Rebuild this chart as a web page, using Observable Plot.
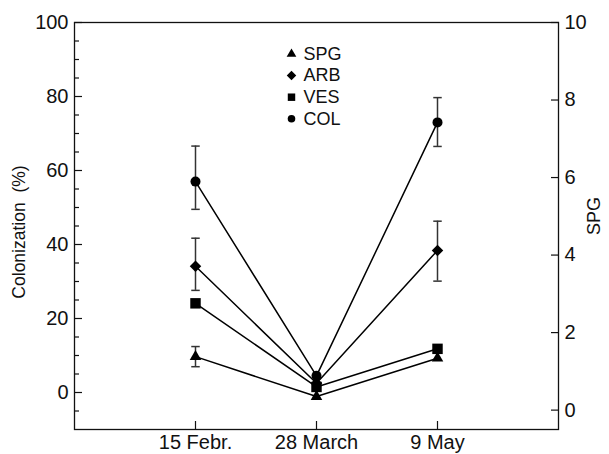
<!DOCTYPE html>
<html><head><meta charset="utf-8">
<script src="https://cdn.jsdelivr.net/npm/d3@7"></script>
<script src="https://cdn.jsdelivr.net/npm/@observablehq/plot@0.6"></script>
<style>body{margin:0;background:#fff;} #chart svg{display:block;}</style>
</head><body><div id="chart"></div>
<script>
// ---- data ----
const dates = ["15 Febr.", "28 March", "9 May"];
const seriesNames = ["SPG", "ARB", "VES", "COL"];
const COL = [57.0, 4.5, 73.0];
const COL_hi = [66.6, null, 79.7];
const COL_lo = [49.5, null, 66.5];
const ARB = [34.1, 2.5, 38.4];
const ARB_hi = [41.7, null, 46.3];
const ARB_lo = [27.6, null, 30.1];
const VES = [24.1, 1.5, 11.8];
const VES_hi = [null, null, null];
const VES_lo = [null, null, null];
// SPG is read on the right-hand axis
const SPG = [1.38, 0.35, 1.34];
const SPG_hi = [1.64, null, null];
const SPG_lo = [1.12, null, null];
const leftTicks = [0, 20, 40, 60, 80, 100];
const leftMinorTicks = [-5, 5, 10, 15, 25, 30, 35, 45, 50, 55, 65, 70, 75, 85, 90, 95];
const rightTicks = [0, 2, 4, 6, 8, 10];

// ---- scales ----
const leftDomain = [-10, 100];
const rightDomain = [-0.5, 10];
const toLeft = v => v == null ? null :
  leftDomain[0] + (v - rightDomain[0]) * (leftDomain[1] - leftDomain[0]) / (rightDomain[1] - rightDomain[0]);
const fromLeft = v => rightDomain[0] + (v - leftDomain[0]) * (rightDomain[1] - rightDomain[0]) / (leftDomain[1] - leftDomain[0]);

const seriesData = {
  SPG: {v: SPG.map(toLeft), hi: SPG_hi.map(toLeft), lo: SPG_lo.map(toLeft), symbol: "triangle", r: 4.3, lr: 3.6},
  ARB: {v: ARB, hi: ARB_hi, lo: ARB_lo, symbol: "diamond2", r: 5.2, lr: 4.3},
  VES: {v: VES, hi: VES_hi, lo: VES_lo, symbol: "square", r: 5.9, lr: 4.2},
  COL: {v: COL, hi: COL_hi, lo: COL_lo, symbol: "circle", r: 5.0, lr: 3.8}
};

const rows = [];
const errRows = [];
for (const name of seriesNames) {
  const s = seriesData[name];
  s.v.forEach((y, i) => {
    rows.push({series: name, x: i + 1, y});
    if (s.hi[i] != null) errRows.push({series: name, x: i + 1, hi: s.hi[i], lo: s.lo[i]});
  });
}

const font = "'Liberation Sans', Arial, Helvetica, sans-serif";
const fsTick = 20;
const fsLegend = 18;
const fsTitle = 17.5;
const capHalf = 0.035;

const marks = [
  Plot.frame({stroke: "#111", strokeWidth: 1.3}),
  // left axis
  Plot.axisY(leftTicks, {anchor: "left", tickSize: -8, tickFormat: () => "", stroke: "#111", strokeWidth: 1.2}),
  Plot.axisY(leftMinorTicks, {anchor: "left", tickSize: -5, tickFormat: () => "", stroke: "#111", strokeWidth: 1.2}),
  Plot.axisY(leftTicks, {anchor: "left", tickSize: 0, tickPadding: 6, fontSize: fsTick, fill: "#111"}),
  // right axis (SPG)
  Plot.axisY(rightTicks.map(toLeft), {anchor: "right", tickSize: -8, tickFormat: () => "", stroke: "#111", strokeWidth: 1.2}),
  Plot.axisY(rightTicks.map(toLeft), {anchor: "right", tickSize: 0, tickPadding: 6, fontSize: fsTick, fill: "#111",
    tickFormat: d => String(Math.round(fromLeft(d)))}),
  // x axis
  Plot.axisX([1, 2, 3], {anchor: "bottom", tickSize: -8, tickFormat: () => "", stroke: "#111", strokeWidth: 1.2}),
  Plot.axisX([1, 2, 3], {anchor: "bottom", tickSize: 0, tickPadding: 5, fontSize: fsTick, fill: "#111",
    tickFormat: d => dates[d - 1]}),
  // axis titles
  Plot.text(["Colonization  (%)"], {frameAnchor: "left", dx: -55, dy: 6, rotate: -90, fontSize: fsTitle, fill: "#111", textAnchor: "middle", lineAnchor: "middle"}),
  Plot.text(["SPG"], {frameAnchor: "right", dx: 36, dy: -10, rotate: -90, fontSize: fsLegend, fill: "#111", textAnchor: "middle", lineAnchor: "middle"}),
  // error bars
  Plot.ruleX(errRows, {x: "x", y1: "lo", y2: "hi", stroke: "#333", strokeWidth: 1.5}),
  Plot.link(errRows, {x1: d => d.x - capHalf, x2: d => d.x + capHalf, y1: "hi", y2: "hi", stroke: "#333", strokeWidth: 1.5}),
  Plot.link(errRows, {x1: d => d.x - capHalf, x2: d => d.x + capHalf, y1: "lo", y2: "lo", stroke: "#333", strokeWidth: 1.5}),
  // lines
  Plot.line(rows, {x: "x", y: "y", z: "series", stroke: "#000", strokeWidth: 1.5})
];
for (const name of seriesNames) {
  const s = seriesData[name];
  marks.push(Plot.dot(rows.filter(d => d.series === name), {x: "x", y: "y", symbol: () => s.symbol, r: s.r, fill: "#000", stroke: "none"}));
}
// legend
seriesNames.forEach((name, i) => {
  const s = seriesData[name];
  const dy = 31.5 + i * 21.6;
  marks.push(Plot.dot([name], {frameAnchor: "top-left", dx: 217, dy, symbol: () => s.symbol, r: s.lr, fill: "#000", stroke: "none"}));
  marks.push(Plot.text([name], {frameAnchor: "top-left", dx: 229, dy, text: d => d, textAnchor: "start", lineAnchor: "middle", fontSize: fsLegend, fill: "#111"}));
});

const chart = Plot.plot({
  width: 609,
  height: 454,
  marginLeft: 74,
  marginRight: 51,
  marginTop: 22,
  marginBottom: 25,
  style: {fontFamily: font, background: "#fff", color: "#111"},
  x: {domain: [0, 4], label: null},
  y: {domain: leftDomain, label: null},
  marks
});
document.getElementById("chart").append(chart);
</script>
</body></html>
